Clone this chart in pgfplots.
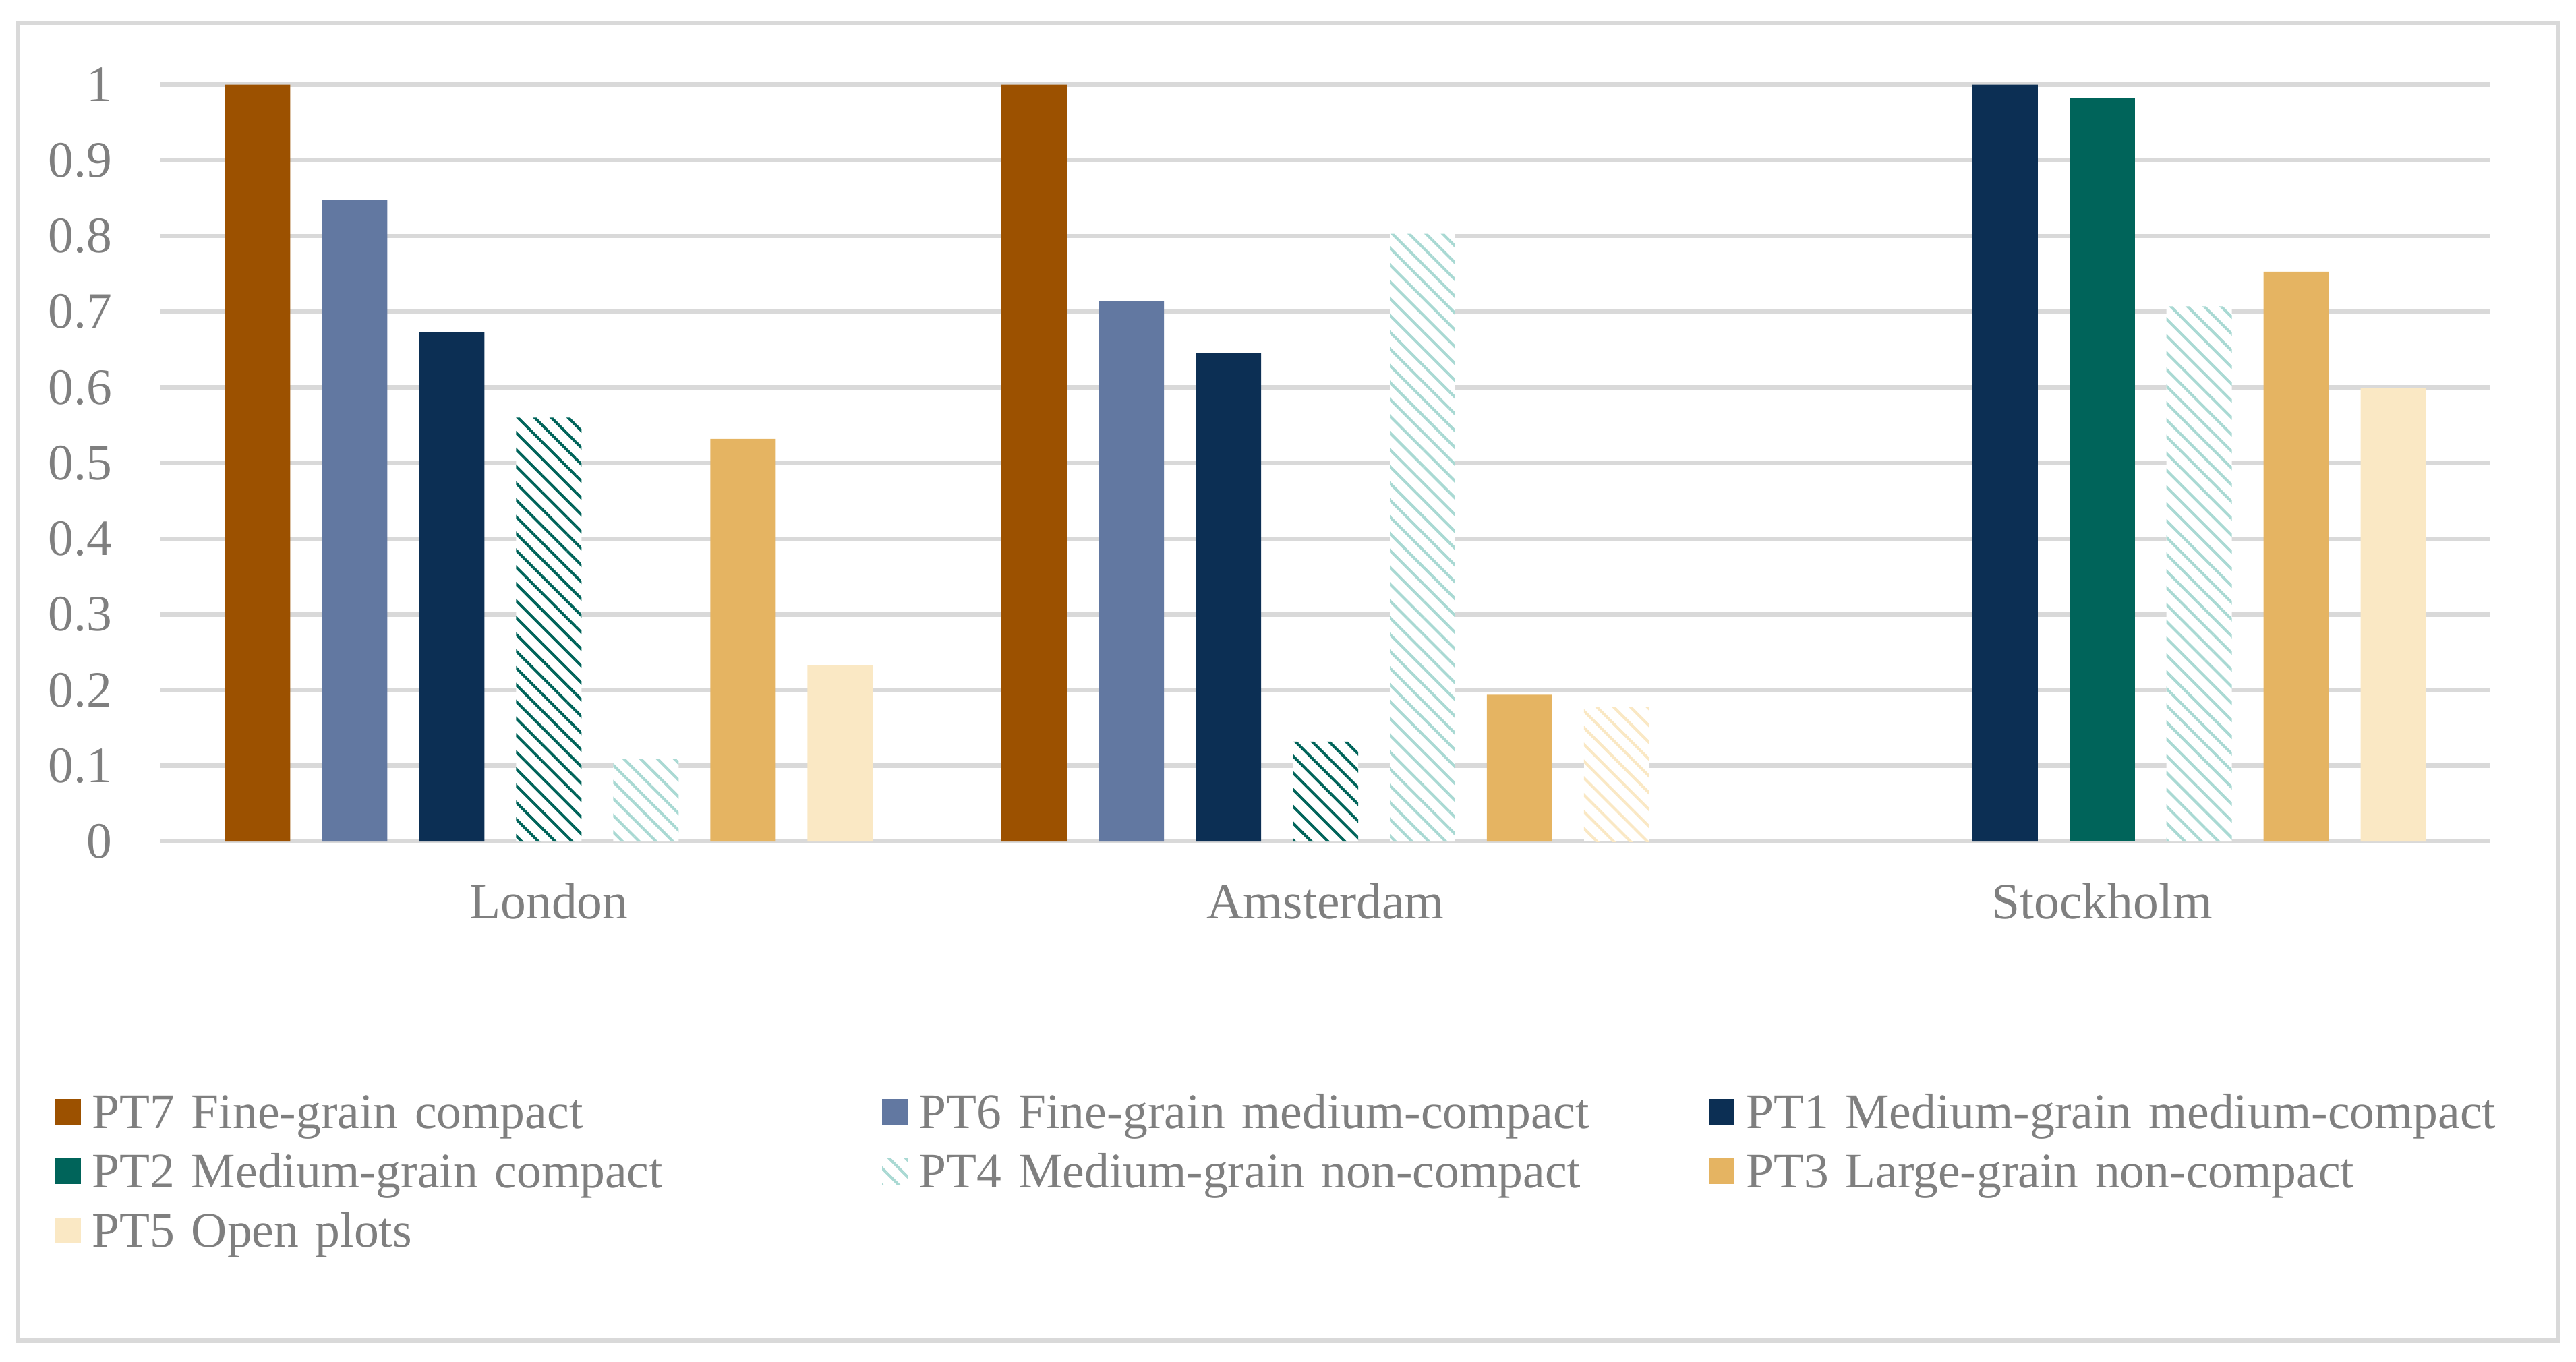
\documentclass[border=0pt]{standalone}
\usepackage{fontspec}
\setmainfont{Liberation Serif}
\usepackage{pgfplots}
\pgfplotsset{compat=1.18}
\usetikzlibrary{patterns.meta}
\definecolor{cseven}{HTML}{9C5100}
\definecolor{csix}{HTML}{6278A1}
\definecolor{cone}{HTML}{0C2F54}
\definecolor{ctwo}{HTML}{00645A}
\definecolor{cfour}{HTML}{A9D9D3}
\definecolor{cthree}{HTML}{E5B462}
\definecolor{cfive}{HTML}{FAE8C4}
\definecolor{gridgray}{HTML}{D9D9D9}
\definecolor{txtgray}{HTML}{7F7F7F}
\pgfplotsset{
  barbase/.style={ybar, bar width=0.0842, draw=none,
    legend image code/.code={\fill[##1] (0pt,-3pt) rectangle (6pt,3pt);}},
  hatch/.style={fill=white, postaction={pattern={Lines[angle=-45,distance=2.8pt,line width=0.65pt]}, pattern color=#1}},
}
\begin{document}
\begin{tikzpicture}
\useasboundingbox (-37.83pt,-122.54pt) rectangle (569.32pt,198.36pt);
\draw[gridgray, line width=1.1pt] (-33.54pt,-117.62pt) rectangle (565.03pt,192.95pt);
\begin{axis}[
  at={(0,0)}, anchor=south west,
  scale only axis, width=549.14pt, height=178.41pt,
  xmin=-0.5, xmax=2.5, ymin=0, ymax=1,
  xtick={0,1,2}, xticklabels={London,Amsterdam,Stockholm},
  ytick={0,0.1,0.2,0.3,0.4,0.5,0.6,0.7,0.8,0.9,1},
  ymajorgrids, grid style={line width=1.1pt, draw=gridgray},
  axis line style={draw=none}, tick style={draw=none}, major tick length=0pt,
  /pgf/number format/assume math mode=true,
  tick label style={font=\fontsize{12}{14}\selectfont, text=txtgray, inner sep=0pt},
  yticklabel style={anchor=east, xshift=-11.28pt},
  xticklabel style={anchor=north, yshift=-9.60pt},
  legend columns=3,
  legend cell align=left,
  legend style={draw=none, fill=none, inner sep=0pt, outer sep=0pt,
    at={(axis description cs:-0.04516,-0.33552)}, anchor=north west,
    font=\fontsize{11.7}{14}\selectfont, text=txtgray,
    row sep=6.25pt, column sep=0pt,
    nodes={inner sep=0pt, text width=186.2pt, align=left, text height=7.75pt, text depth=0pt},
    /tikz/every odd column/.append style={column sep=2.7pt}},
]
\addplot[barbase, bar shift=-0.375, fill=cseven] coordinates {(0,1.000) (1,1.000)};
\addlegendentry{PT7 Fine-grain compact}
\addplot[barbase, bar shift=-0.25, fill=csix] coordinates {(0,0.848) (1,0.714)};
\addlegendentry{PT6 Fine-grain medium-compact}
\addplot[barbase, bar shift=-0.125, fill=cone] coordinates {(0,0.673) (1,0.645) (2,1.000)};
\addlegendentry{PT1 Medium-grain medium-compact}
\addplot[barbase, bar shift=0, fill=ctwo] coordinates {(2,0.982)};
\addlegendentry{PT2 Medium-grain compact}
\addplot[barbase, bar shift=0, hatch=ctwo, forget plot] coordinates {(0,0.560) (1,0.132)};
\addplot[barbase, bar shift=0.125, hatch=cfour] coordinates {(0,0.109) (1,0.803) (2,0.707)};
\addlegendentry{PT4 Medium-grain non-compact}
\addplot[barbase, bar shift=0.25, fill=cthree] coordinates {(0,0.532) (1,0.194) (2,0.753)};
\addlegendentry{PT3 Large-grain non-compact}
\addplot[barbase, bar shift=0.375, fill=cfive] coordinates {(0,0.233) (2,0.599)};
\addlegendentry{PT5 Open plots}
\addplot[barbase, bar shift=0.375, hatch=cfive, forget plot] coordinates {(1,0.178)};
\end{axis}
\end{tikzpicture}
\end{document}
